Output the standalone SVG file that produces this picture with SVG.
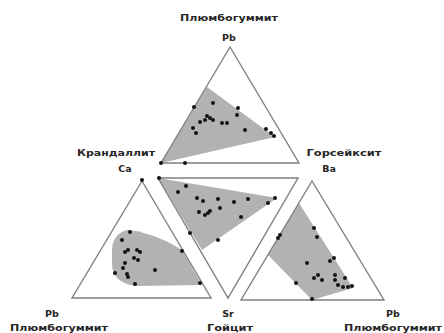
<svg xmlns="http://www.w3.org/2000/svg" width="444" height="333" viewBox="0 0 444 333">
<style>
.tri{fill:none;stroke:#808080;stroke-width:1.4;stroke-linejoin:miter}
.sh{fill:#b2b2b2;stroke:none}
.d{fill:#151515}
.t{font-family:"DejaVu Sans","Liberation Sans",Arial,sans-serif;font-weight:bold;font-size:9.5px;fill:#262626;text-anchor:middle}
</style>
<defs>
<circle id="p" r="2"/>
</defs>
<rect width="444" height="333" fill="#fff"/>

<g id="top">
<polygon class="sh" points="207,87 275,137 161,163"/>
<polygon class="tri" points="230,47 161,163 299,163"/>
<g class="d">
<use href="#p" x="194" y="107"/><use href="#p" x="213" y="103"/><use href="#p" x="238" y="108"/>
<use href="#p" x="237" y="115"/><use href="#p" x="207" y="116"/><use href="#p" x="210" y="118"/>
<use href="#p" x="213" y="120"/><use href="#p" x="200" y="122"/><use href="#p" x="205" y="120"/>
<use href="#p" x="222" y="123"/><use href="#p" x="227" y="123"/><use href="#p" x="193" y="128"/>
<use href="#p" x="196" y="133"/><use href="#p" x="245" y="130"/><use href="#p" x="266" y="129"/>
<use href="#p" x="271" y="133"/><use href="#p" x="274" y="136"/><use href="#p" x="161" y="163"/>
<use href="#p" x="185" y="163"/>
</g>
</g>

<g id="middle">
<polygon class="sh" points="158,178 277,198 202,250"/>
<polygon class="tri" points="158,178 298,178 228,298"/>
<g class="d">
<use href="#p" x="159" y="178"/><use href="#p" x="186" y="186"/><use href="#p" x="178" y="192"/>
<use href="#p" x="197" y="198"/><use href="#p" x="203" y="201"/><use href="#p" x="218" y="199"/>
<use href="#p" x="234" y="202"/><use href="#p" x="248" y="199"/><use href="#p" x="268" y="203"/>
<use href="#p" x="275" y="198"/><use href="#p" x="199" y="212"/><use href="#p" x="205" y="215"/>
<use href="#p" x="208" y="213"/><use href="#p" x="210" y="211"/><use href="#p" x="220" y="208"/>
<use href="#p" x="241" y="217"/><use href="#p" x="190" y="233"/><use href="#p" x="218" y="240"/>
</g>
</g>

<g id="left">
<path class="sh" d="M182,250 L202,285 L136,286 C120,284 112,276 112,264 L112,250 C112,238 120,230 130,230 C150,233 168,241 182,250 Z"/>
<polygon class="tri" points="142,181 72,298 211,298"/>
<g class="d">
<use href="#p" x="142" y="180"/><use href="#p" x="130" y="232"/><use href="#p" x="122" y="240"/>
<use href="#p" x="128" y="250"/><use href="#p" x="125" y="252"/><use href="#p" x="137" y="250"/>
<use href="#p" x="140" y="252"/><use href="#p" x="134" y="258"/><use href="#p" x="138" y="260"/>
<use href="#p" x="125" y="263"/><use href="#p" x="123" y="268"/><use href="#p" x="115" y="273"/>
<use href="#p" x="127" y="274"/><use href="#p" x="128" y="277"/><use href="#p" x="155" y="270"/>
<use href="#p" x="135" y="284"/><use href="#p" x="182" y="251"/><use href="#p" x="200" y="283"/>
</g>
</g>

<g id="right">
<polygon class="sh" points="299,203 268,255 312,300 353,288"/>
<polygon class="tri" points="312,181 241,300 384,300"/>
<g class="d">
<use href="#p" x="280" y="235"/><use href="#p" x="278" y="238"/><use href="#p" x="314" y="228"/>
<use href="#p" x="317" y="237"/><use href="#p" x="307" y="263"/><use href="#p" x="330" y="261"/>
<use href="#p" x="334" y="258"/><use href="#p" x="296" y="283"/><use href="#p" x="314" y="278"/>
<use href="#p" x="318" y="275"/><use href="#p" x="322" y="280"/><use href="#p" x="335" y="275"/>
<use href="#p" x="335" y="280"/><use href="#p" x="345" y="278"/><use href="#p" x="338" y="285"/>
<use href="#p" x="343" y="287"/><use href="#p" x="348" y="287"/><use href="#p" x="352" y="286"/>
<use href="#p" x="312" y="299"/>
</g>
</g>

<g id="labels">
<text class="t" x="229" y="21" textLength="98" lengthAdjust="spacingAndGlyphs">Плюмбогуммит</text>
<text class="t" x="229" y="41">Pb</text>
<text class="t" x="116" y="156" textLength="78" lengthAdjust="spacingAndGlyphs">Крандаллит</text>
<text class="t" x="125" y="172">Ca</text>
<text class="t" x="344" y="156" textLength="75" lengthAdjust="spacingAndGlyphs">Горсейксит</text>
<text class="t" x="329" y="172">Ba</text>
<text class="t" x="52" y="317">Pb</text>
<text class="t" x="59" y="331" textLength="98" lengthAdjust="spacingAndGlyphs">Плюмбогуммит</text>
<text class="t" x="228" y="317">Sr</text>
<text class="t" x="230" y="331" textLength="46" lengthAdjust="spacingAndGlyphs">Гойцит</text>
<text class="t" x="393" y="317">Pb</text>
<text class="t" x="393" y="331" textLength="98" lengthAdjust="spacingAndGlyphs">Плюмбогуммит</text>
</g>
</svg>
